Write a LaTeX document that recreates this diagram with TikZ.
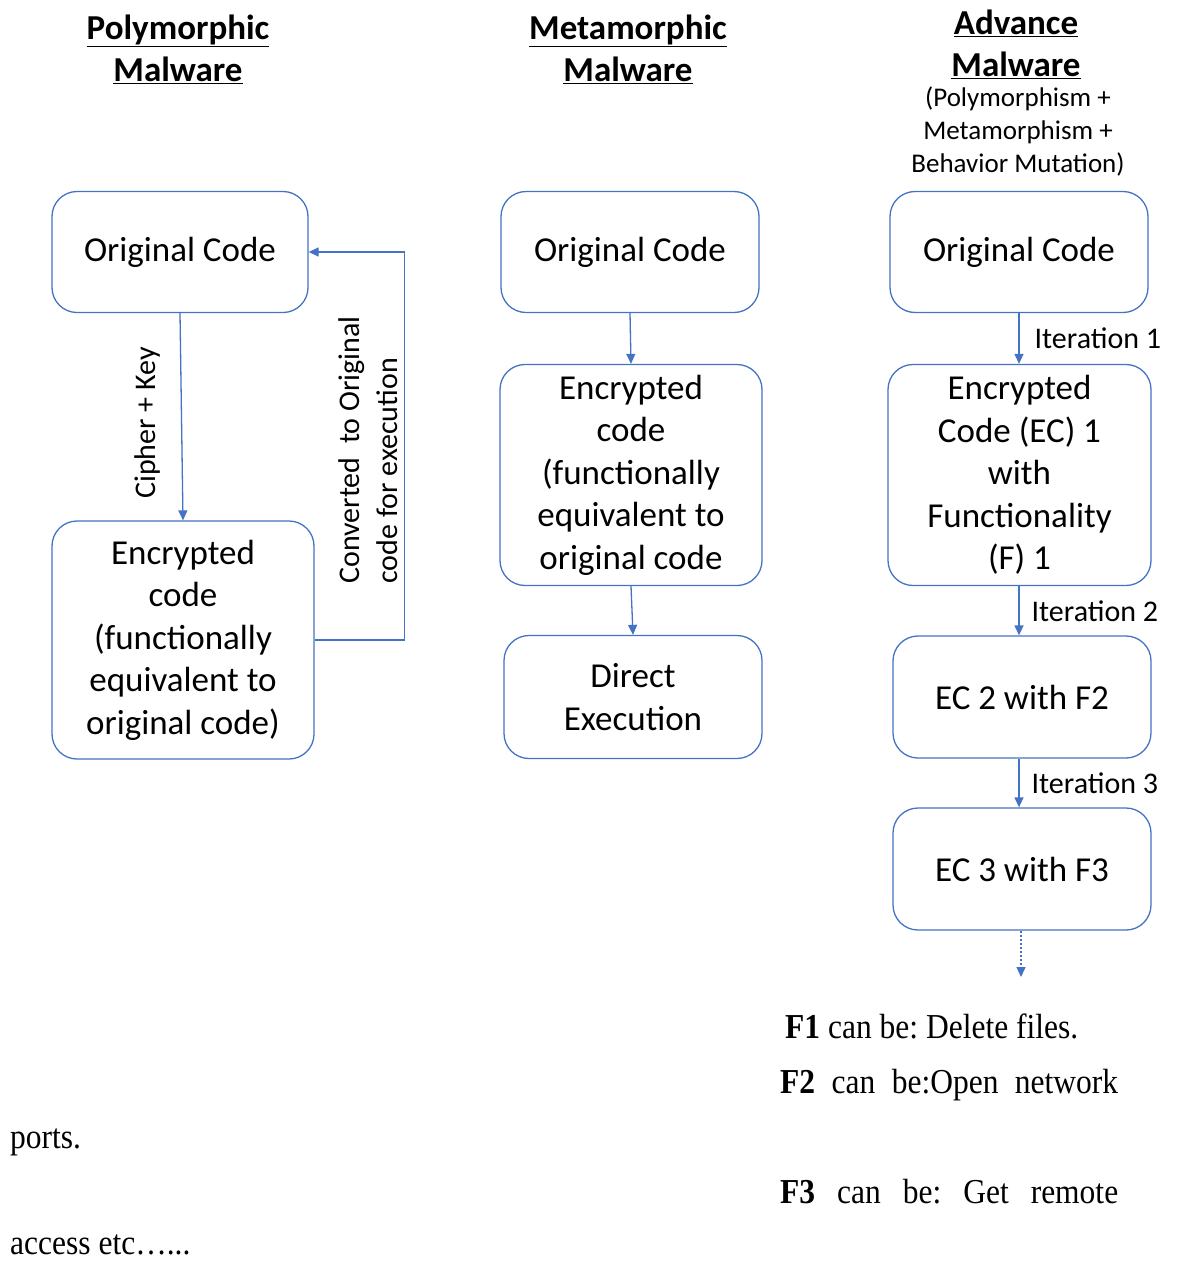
\documentclass[tikz,border=0pt]{standalone}
\usepackage{fontspec}
\setmainfont{Carlito}
\newfontfamily\notefont[FakeStretch=0.9]{Liberation Serif}
\usetikzlibrary{arrows.meta,positioning}
\definecolor{boxblue}{HTML}{4472C4}
\frenchspacing
\tikzset{
  blk/.style={draw=boxblue, line width=1.3pt, rounded corners=25pt, align=center,
    font=\fontsize{35}{42.5}\selectfont, inner sep=0pt},
  arr/.style={draw=boxblue, line width=1.3pt, -{Triangle[length=10pt,width=9pt]}},
  lbl/.style={font=\fontsize{30}{38}\selectfont, inner sep=0pt},
  ttl/.style={font=\fontsize{35}{42}\selectfont\bfseries, align=center, inner sep=0pt},
  note/.style={font=\fontsize{35}{42}\selectfont\notefont, anchor=base west, inner sep=0pt}
}
\begin{document}
\begin{tikzpicture}[x=1pt,y=-1pt]
    \useasboundingbox (0,0) rectangle (1177,1261);

    \node[ttl] (polyT) at (178,49) {\underline{Polymorphic}\\\underline{Malware}};
    \node[ttl] (metaT) at (628,49) {\underline{Metamorphic}\\\underline{Malware}};
    \node[ttl] (advT) at (1016,44) {\underline{Advance}\\\underline{Malware}};
    \node[align=center, inner sep=0pt, font=\fontsize{27}{33}\selectfont] (advSub) at (1018,132)
        {(Polymorphism +\\Metamorphism +\\Behavior Mutation)};

    \node[blk, minimum width=256pt, minimum height=121pt] (polyOC) at (180,252) {Original Code};
    \node[blk, minimum width=262pt, minimum height=238pt] (polyEC) at (183,640)
        {Encrypted\\code\\(functionally\\equivalent to\\original code)};
    \draw[arr] (polyOC.south) -- (polyEC.north);
    \node[lbl, rotate=90] (cipher) at (148,423) {Cipher + Key};
    \draw[arr] (polyEC.east) -- ++(90,0) |- (polyOC.east);
    \node[lbl, rotate=90, align=left] (conv) at (368,450) {Converted\ \ to Original\\code for execution};

    \node[blk, minimum width=258pt, minimum height=121pt] (metaOC) at (630,252) {Original Code};
    \node[blk, minimum width=262pt, minimum height=221pt] (metaEC) at (631,475)
        {Encrypted\\code\\(functionally\\equivalent to\\original code};
    \node[blk, minimum width=258pt, minimum height=123pt] (metaDE) at (633,697) {Direct\\Execution};
    \draw[arr] (metaOC.south) -- (metaEC.north);
    \draw[arr] (metaEC.south) -- (metaDE.north);

    \node[blk, minimum width=258pt, minimum height=121pt] (advOC) at (1019,252) {Original Code};
    \node[blk, minimum width=263pt, minimum height=221pt] (advEC1) at (1019.5,475)
        {Encrypted\\Code (EC) 1\\with\\Functionality\\(F) 1};
    \node[blk, minimum width=258pt, minimum height=122pt] (advEC2) at (1022,697) {EC 2 with F2};
    \node[blk, minimum width=258pt, minimum height=122pt] (advEC3) at (1022,869) {EC 3 with F3};
    \draw[arr] (advOC.south) -- (advOC.south |- advEC1.north)
        node[lbl, midway, anchor=west, xshift=15pt] (it1) {Iteration 1};
    \draw[arr] (advOC.south |- advEC1.south) -- (advOC.south |- advEC2.north)
        node[lbl, midway, anchor=west, xshift=12pt] (it2) {Iteration 2};
    \draw[arr] (advOC.south |- advEC2.south) -- (advOC.south |- advEC3.north)
        node[lbl, midway, anchor=west, xshift=12pt] (it3) {Iteration 3};
    \coordinate (more) at (1021,977);
    \draw[arr, dash pattern=on 2pt off 2pt] (advEC3.south -| more) -- (more);

    \node[note] (f1) at (785,1038) {\textbf{F1} can be: Delete files.};
    \node[note] (f2) at (780,1093) {\makebox[338pt][s]{\textbf{F2} can be:Open network}};
    \node[note] (f2b) at (10,1148) {ports.};
    \node[note] (f3) at (780,1203) {\makebox[338pt][s]{\textbf{F3} can be: Get remote}};
    \node[note] (f3b) at (10,1254) {access etc…...};
\end{tikzpicture}
\end{document}
